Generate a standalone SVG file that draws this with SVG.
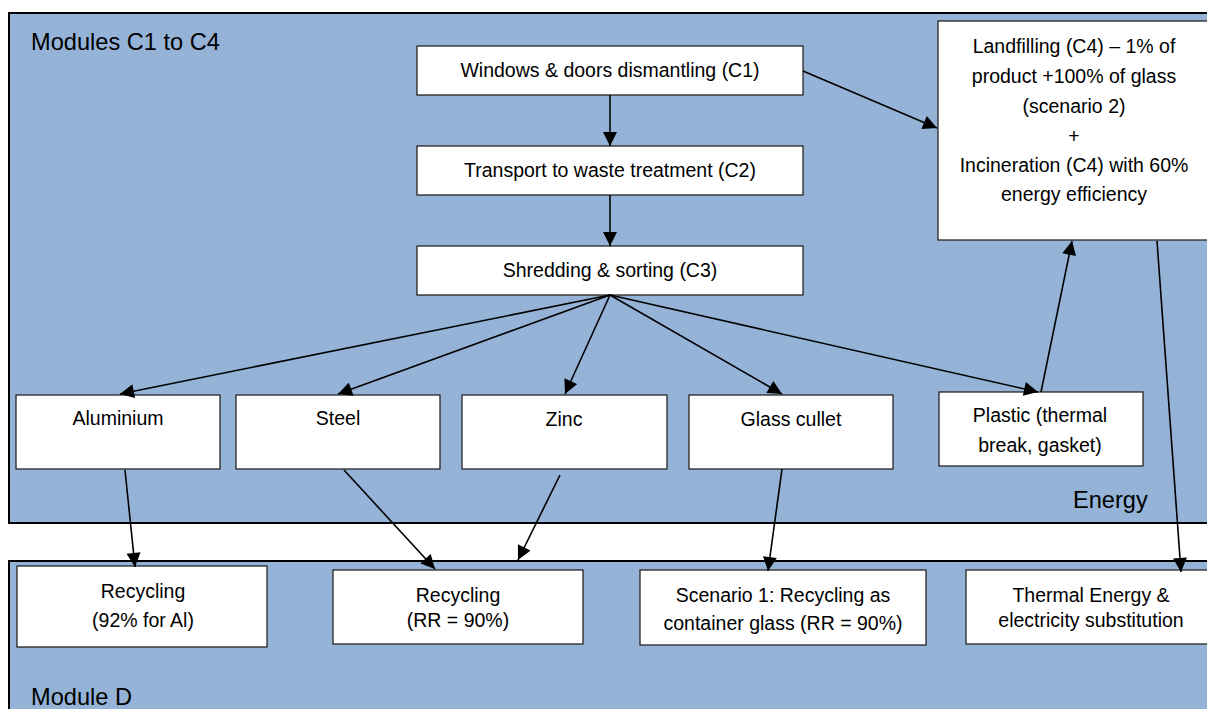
<svg xmlns="http://www.w3.org/2000/svg" width="1207" height="709" viewBox="0 0 1207 709">
  <style>
    .container { fill: #95B3D7; stroke: #000; stroke-width: 2; }
    .box { fill: #fff; stroke: #262626; stroke-width: 1.3; }
    .t { font-family: "Liberation Sans", Arial, sans-serif; font-size: 19.5px; fill: #000; text-anchor: middle; }
    .big { font-family: "Liberation Sans", Arial, sans-serif; font-size: 23.6px; fill: #000; }
    .conn line { stroke: #000; stroke-width: 1.6; marker-end: url(#arrow); }
  </style>
  <defs>
    <marker id="arrow" viewBox="0 0 10 10" refX="10" refY="5" markerUnits="userSpaceOnUse" markerWidth="15" markerHeight="14" orient="auto">
      <path d="M0,0 L10,5 L0,10 z" fill="#000"/>
    </marker>
  </defs>
  <rect width="1207" height="709" fill="#fff"/>

  <g id="modules-c1-c4">
    <rect class="container" x="9" y="13" width="1210" height="510"/>
    <text class="big" x="31" y="50">Modules C1 to C4</text>
    <text class="big" x="1073" y="508">Energy</text>
  </g>
  <g id="module-d">
    <rect class="container" x="9" y="561" width="1210" height="160"/>
    <text class="big" x="31" y="705">Module D</text>
  </g>

  <g id="dismantling">
    <rect class="box" x="417" y="46" width="386" height="49"/>
    <text class="t" x="610" y="77">Windows &amp; doors dismantling (C1)</text>
  </g>
  <g id="transport">
    <rect class="box" x="417" y="146" width="386" height="49"/>
    <text class="t" x="610" y="177">Transport to waste treatment (C2)</text>
  </g>
  <g id="shredding">
    <rect class="box" x="417" y="246" width="386" height="49"/>
    <text class="t" x="610" y="277">Shredding &amp; sorting (C3)</text>
  </g>
  <g id="landfilling">
    <rect class="box" x="938" y="21" width="280" height="219"/>
    <text class="t" x="1074" y="53">Landfilling (C4) – 1% of</text>
    <text class="t" x="1074" y="83">product +100% of glass</text>
    <text class="t" x="1074" y="113">(scenario 2)</text>
    <text class="t" x="1074" y="143">+</text>
    <text class="t" x="1074" y="172">Incineration (C4) with 60%</text>
    <text class="t" x="1074" y="201">energy efficiency</text>
  </g>

  <g id="aluminium">
    <rect class="box" x="16" y="395" width="204" height="74"/>
    <text class="t" x="118" y="425">Aluminium</text>
  </g>
  <g id="steel">
    <rect class="box" x="236" y="395" width="204" height="74"/>
    <text class="t" x="338" y="425">Steel</text>
  </g>
  <g id="zinc">
    <rect class="box" x="462" y="395" width="205" height="74"/>
    <text class="t" x="564" y="426">Zinc</text>
  </g>
  <g id="glass-cullet">
    <rect class="box" x="689" y="395" width="204" height="74"/>
    <text class="t" x="791" y="426">Glass cullet</text>
  </g>
  <g id="plastic">
    <rect class="box" x="939" y="392" width="204" height="74"/>
    <text class="t" x="1040" y="422">Plastic (thermal</text>
    <text class="t" x="1040" y="452">break, gasket)</text>
  </g>

  <g id="recycling-al">
    <rect class="box" x="17" y="566" width="250" height="81"/>
    <text class="t" x="143" y="598">Recycling</text>
    <text class="t" x="143" y="627">(92% for Al)</text>
  </g>
  <g id="recycling-rr">
    <rect class="box" x="333" y="570" width="250" height="74"/>
    <text class="t" x="458" y="602">Recycling</text>
    <text class="t" x="458" y="627">(RR = 90%)</text>
  </g>
  <g id="scenario-1">
    <rect class="box" x="640" y="570" width="286" height="75"/>
    <text class="t" x="783" y="602">Scenario 1: Recycling as</text>
    <text class="t" x="783" y="630">container glass (RR = 90%)</text>
  </g>
  <g id="thermal-energy">
    <rect class="box" x="966" y="570" width="250" height="74"/>
    <text class="t" x="1091" y="602">Thermal Energy &amp;</text>
    <text class="t" x="1091" y="627">electricity substitution</text>
  </g>

  <g id="connectors" class="conn">
    <line x1="610" y1="95" x2="610" y2="146"/>
    <line x1="610" y1="195" x2="610" y2="246"/>
    <line x1="803" y1="71" x2="937" y2="128"/>
    <line x1="610" y1="295" x2="120" y2="394"/>
    <line x1="610" y1="295" x2="338" y2="394"/>
    <line x1="610" y1="295" x2="565" y2="394"/>
    <line x1="610" y1="295" x2="782" y2="394"/>
    <line x1="610" y1="295" x2="1038" y2="392"/>
    <line x1="1041" y1="392" x2="1072" y2="241"/>
    <line x1="1157" y1="241" x2="1181" y2="572"/>
    <line x1="125" y1="470" x2="135" y2="567"/>
    <line x1="344" y1="470" x2="435" y2="569"/>
    <line x1="560" y1="475" x2="518" y2="560"/>
    <line x1="782" y1="469" x2="768" y2="571"/>
  </g>
</svg>
